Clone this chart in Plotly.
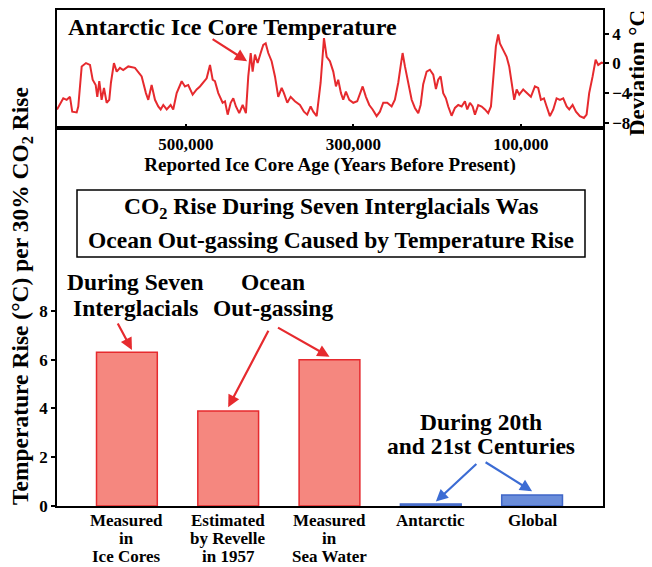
import plotly.graph_objects as go

# ---------------- data ----------------
# Antarctic ice-core temperature deviation (age in thousands of years before present)
age_kyr = [654, 646.5, 642.4, 638.5, 635.8, 630.5, 628.6, 624.5, 619.4, 614.6,
           611.4, 607.8, 605.9, 603.5, 600.7, 597.9, 594.7, 591.6, 589.6, 586.0,
           582.7, 578.8, 574.9, 568.9, 560.9, 557.0, 552.9, 547.8, 545.0, 541.0,
           537.0, 533.1, 530.2, 527.1, 523.0, 518.3, 515.2, 511.1, 505.1, 501.2,
           497.3, 492.0, 487.2, 483.3, 479.3, 475.3, 471.3, 468.1, 465.4, 461.4,
           456.2, 453.4, 450.2, 446.6, 443.5, 440.3, 436.4, 432.3, 428.4, 425.6,
           422.7, 420.4, 417.6, 414.4, 410.8, 407.7, 404.8, 401.7, 397.7, 393.7,
           389.8, 385.7, 383.0, 379.0, 375.0, 369.9, 363.9, 359.1, 355.2, 351.1,
           348.0, 343.9, 339.2, 335.2, 332.0, 328.1, 324.1, 320.9, 318.2, 314.9,
           312.2, 309.0, 305.0, 300.2, 295.5, 292.2, 289.0, 285.1, 281.1, 277.1,
           272.3, 268.4, 264.4, 259.6, 254.4, 250.5, 246.5, 243.7, 241.3, 238.5,
           234.6, 230.5, 226.6, 222.6, 219.8, 216.7, 212.6, 208.7, 204.7, 201.5,
           198.8, 195.9, 192.8, 189.6, 186.8, 182.8, 178.8, 174.9, 170.8, 166.9,
           164.1, 160.9, 157.7, 154.9, 151.0, 146.9, 143.0, 139.1, 135.8, 132.2,
           129.9, 127.1, 125.1, 121.1, 117.1, 114.0, 111.1, 108.0, 105.1, 102.0,
           97.3, 93.2, 88.1, 83.3, 79.4, 76.1, 72.5, 69.3, 65.4, 61.4,
           57.4, 53.4, 49.5, 45.4, 42.3, 38.3, 34.3, 29.6, 24.8, 21.6,
           18.5, 14.4, 10.8, 7.7, 3.7, 2.0]
temp_dev = [-6.2, -4.7, -4.9, -4.5, -6.5, -6.6, -5.8, -0.4, 0.05, -0.2,
            -2.2, -2.9, -4.5, -2.4, -4.9, -3.3, -5.3, -4.9, -2.6, 0.05,
            -1.1, -0.6, -0.9, -0.4, -0.6, -1.1, -1.75, -4.0, -4.9, -2.9,
            -4.9, -5.8, -6.2, -5.6, -6.2, -5.6, -6.2, -4.0, -2.4, -3.1,
            -2.9, -4.2, -3.5, -3.1, -2.6, -2.0, -0.2, -2.2, -2.4, -4.0,
            -5.3, -5.1, -6.9, -5.3, -4.7, -5.8, -6.7, -5.6, -6.7, -1.75,
            1.4, -1.1, 1.2, 0.05, 1.4, 2.5, 2.7, 1.4, 0.3, -1.75,
            -4.5, -3.3, -4.0, -5.3, -4.5, -5.1, -5.6, -6.5, -6.9, -5.8,
            -6.5, -7.1, -2.6, 3.4, 0.9, 0.3, -1.1, -3.1, -2.2, -4.0,
            -4.9, -3.8, -4.9, -5.3, -5.1, -4.2, -3.1, -4.5, -5.6, -6.2,
            -7.1, -6.5, -5.3, -5.3, -5.8, -4.9, -2.6, -0.4, 1.4, -0.4,
            -2.6, -4.9, -6.0, -6.7, -5.6, -2.8, -1.1, -0.85, -1.5, -3.45,
            -2.2, -1.75, -4.0, -4.7, -5.8, -7.05, -6.0, -5.6, -5.8, -5.1,
            -6.2, -5.3, -5.8, -6.9, -5.6, -5.8, -6.2, -6.7, -5.8, -1.3,
            2.3, 3.9, 2.7, 1.8, 0.9, -0.4, -2.6, -4.9, -3.5, -4.2,
            -3.5, -4.0, -4.5, -3.1, -3.3, -4.9, -4.7, -5.8, -7.1, -6.2,
            -4.7, -4.9, -4.7, -5.8, -6.2, -5.6, -6.5, -7.1, -7.35, -6.9,
            -4.0, -1.75, 0.5, -0.2, 0.1, 0.05]
age_tick_vals = [500, 300, 100]
age_tick_text = ["500,000", "300,000", "100,000"]
dev_tick_vals = [-8, -4, 0, 4]

# Bar chart
bar_categories = ["Measured<br>in<br>Ice Cores", "Estimated<br>by Revelle<br>in 1957",
                  "Measured<br>in<br>Sea Water", "Antarctic", "Global"]
bar_values = [6.3, 3.9, 6.0, 0.08, 0.45]
rise_tick_vals = [0, 2, 4, 6, 8]

# ---------------- styling ----------------
OFF = 8                      # page body margin the figure sits inside
W, H = 652 - OFF, 567 - OFF
FONT = "Liberation Serif"
RED = "#E62A2E"
RED_FILL = "#F5877F"
BLUE_FILL = "#6A8DDA"
BLUE_EDGE = "#3F66C8"
BLUE_ARROW = "#3C6CD4"


def px(x):
    return (x - OFF) / W


def py(y):
    return 1 - (y - OFF) / H


def f(size, color="black"):
    return dict(family=FONT, size=size, color=color, weight="bold")


LEFT, RIGHT = px(57), px(603)
TOP_DOM = [py(128), py(10)]
BOT_DOM = [py(506), py(128)]

fig = go.Figure()
fig.add_trace(go.Scatter(x=age_kyr, y=temp_dev, mode="lines",
                         line=dict(color=RED, width=2),
                         xaxis="x", yaxis="y", showlegend=False, hoverinfo="skip"))
fig.add_trace(go.Bar(x=list(range(len(bar_values))), y=bar_values, width=0.6,
                     marker=dict(color=[RED_FILL] * 3 + [BLUE_FILL] * 2,
                                 line=dict(color=[RED] * 3 + [BLUE_EDGE] * 2, width=1.5)),
                     xaxis="x2", yaxis="y2", showlegend=False))

axis_common = dict(showline=True, linecolor="black", linewidth=1.5, mirror=True,
                   showgrid=False, zeroline=False, automargin=False,
                   tickcolor="black", tickwidth=1.5)

fig.update_layout(
    width=W, height=H, template="none",
    margin=dict(l=0, r=0, t=0, b=0),
    paper_bgcolor="white", plot_bgcolor="white",
    font=f(17), showlegend=False,
    xaxis=dict(axis_common, domain=[LEFT, RIGHT], anchor="y",
               range=[654, 2], tickvals=age_tick_vals, ticktext=age_tick_text,
               ticks="inside", ticklen=4, tickfont=f(17),
               title=dict(text="Reported Ice Core Age (Years Before Present)",
                          font=f(19), standoff=2)),
    yaxis=dict(axis_common, domain=TOP_DOM, anchor="x", side="right",
               range=[-8.7, 7.2], tickvals=dev_tick_vals,
               ticks="outside", ticklen=4, tickfont=f(17)),
    xaxis2=dict(axis_common, domain=[LEFT, RIGHT], anchor="y2",
                range=[-0.69, 4.70], tickvals=list(range(len(bar_categories))),
                ticktext=bar_categories, ticks="", showticklabels=False),
    yaxis2=dict(axis_common, domain=BOT_DOM, anchor="x2",
                range=[0, 15.5], tickvals=rise_tick_vals,
                ticks="outside", ticklen=4, tickfont=f(17)),
    bargap=0.4,
)


def label(text, x, y, size=23.5, **kw):
    d = dict(text=text, xref="paper", yref="paper", x=px(x), y=py(y),
             showarrow=False, font=f(size), xanchor="center", yanchor="middle")
    d.update(kw)
    return d


ann = []
# Axis titles
ann.append(label("Temperature Rise (°C) per 30% CO<sub>2</sub> Rise", 22, 296, 23.5,
                 textangle=-90))
ann.append(label("Deviation °C", 638, 73, 23, textangle=-90))
# Top panel title + arrow
ann.append(label("Antarctic Ice Core Temperature", 232, 27, 24))
ann.append(dict(text="", xref="x", yref="y", x=427, y=0.3, ax=-36, ay=-23,
                showarrow=True, arrowhead=2, arrowsize=1.1, arrowwidth=2.2, arrowcolor=RED))
# Boxed headline
fig.add_shape(type="rect", xref="paper", yref="paper", x0=px(77), x1=px(585),
              y0=py(257), y1=py(190), line=dict(color="black", width=1.5),
              fillcolor="white")
ann.append(label("CO<sub>2</sub> Rise During Seven Interglacials Was", 331, 208))
ann.append(label("Ocean Out-gassing Caused by Temperature Rise", 331, 240))
# Bar annotations
for txt, x, y in [("During Seven", 135, 282), ("Interglacials", 135, 308),
                  ("Ocean", 273, 282), ("Out-gassing", 273, 308),
                  ("During 20th", 481, 422), ("and 21st Centuries", 481, 446)]:
    ann.append(label(txt, x, y))
# Category labels under bars (one annotation per line, positioned on the category axis)
for i, cat in enumerate(bar_categories):
    for j, line in enumerate(cat.split("<br>")):
        ann.append(dict(text=line, xref="x2", yref="paper", x=i, y=py(520 + 18 * j),
                        showarrow=False, font=f(17), xanchor="center", yanchor="middle"))
# Arrows to bars
arrow_specs = [(0, 0.05, 0.1, -15, -28, RED), (1, 0.0, 0.15, 41, -78, RED),
               (2, 0.0, 0.12, -53, -30, RED),
               (3, 0.05, 0.1, 42, -39, BLUE_ARROW), (4, 0.0, 0.15, -48, -30, BLUE_ARROW)]
for i, dx, pad, ax, ay, col in arrow_specs:
    ann.append(dict(text="", xref="x2", yref="y2", x=i + dx,
                    y=bar_values[i] + pad, ax=ax, ay=ay, showarrow=True, arrowhead=2,
                    arrowsize=1.1, arrowwidth=2.2, arrowcolor=col))
fig.update_layout(annotations=ann)

fig.write_html("out.html")
